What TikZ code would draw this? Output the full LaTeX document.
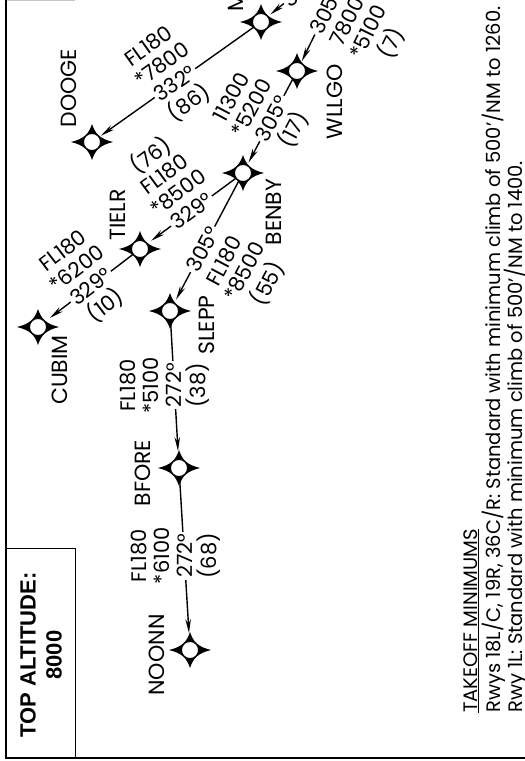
\documentclass[tikz,border=0pt]{standalone}
\usepackage{fontspec}
\setmainfont{Poppins}
\newfontfamily\boxfont{Liberation Sans}
\usetikzlibrary{arrows.meta, calc}

% stacked leg data (base = last / first line)
\newcommand{\upstack}[1]{\begin{tabular}[b]{@{}c@{}}#1\end{tabular}}
\newcommand{\downstack}[1]{\begin{tabular}[t]{@{}c@{}}#1\end{tabular}}

\tikzset{
  fixstar/.pic={\fill (21,0) .. controls (8,3.2) and (3.2,8) .. (0,18) .. controls (-3.2,8) and (-8,3.2) .. (-21,0)
     .. controls (-8,-3.2) and (-3.2,-8) .. (0,-18) .. controls (3.2,-8) and (8,-3.2) .. cycle;},
  fix/.style={circle, draw, line width=0.9pt, fill=white, minimum size=17pt, inner sep=0pt},
  fixname/.style={font=\fontsize{22}{23}\selectfont, inner sep=0pt, rotate=90},
  leg/.style={line width=1.4pt, -{Stealth[length=14pt, width=5.5pt]}, shorten >=3pt},
  course/.style={font=\fontsize{21}{23}\selectfont, fill=white, inner sep=2pt},
  legdata/.style={font=\fontsize{21}{23}\selectfont, inner sep=0pt, anchor=base},
  note/.style={font=\fontsize{19.5}{22}\selectfont, inner sep=0pt, rotate=90, anchor=base west},
}

\begin{document}
\begin{tikzpicture}[x=1pt, y=-1pt]
    \useasboundingbox (0,0) rectangle (525,761);
    \clip (0,0) rectangle (525,761);

    % Frame and top altitude box
    \draw[gray!45, line width=1pt] (6,0.5) -- (75,0.5);
    \draw[line width=2.5pt] (6,0) -- (6,758) -- (525,758);
    \draw[line width=0.8pt] (6,548) -- (75,548) -- (75,758);
    \node[font=\boxfont\bfseries\fontsize{22}{26}\selectfont, align=center, rotate=90, inner sep=0pt] (topalt) at (41,655) {TOP ALTITUDE:\\8000};

    % Fixes
    \pic at (261,22) {fixstar};   \node[fix] (wtop) at (261,22) {};
    \pic at (297,71) {fixstar};   \node[fix] (wllgo) at (297,71) {};
    \pic at (243,173) {fixstar};  \node[fix] (benby) at (243,173) {};
    \pic at (92,142) {fixstar};   \node[fix] (dooge) at (92,142) {};
    \pic at (140,249) {fixstar};  \node[fix] (tielr) at (140,249) {};
    \pic at (38,327) {fixstar};   \node[fix] (cubim) at (38,327) {};
    \pic at (170,311) {fixstar};  \node[fix] (slepp) at (170,311) {};
    \pic at (179,468) {fixstar};  \node[fix] (bfore) at (179,468) {};
    \pic at (190,650) {fixstar};  \node[fix] (noonn) at (190,650) {};

    % Fix names
    \node[fixname] (mname) at (236,2) {M};
    \node[fixname] (wllgoname) at (335,102) {WLLGO};
    \node[fixname] (benbyname) at (274,212) {BENBY};
    \node[fixname] (doogename) at (69,88) {DOOGE};
    \node[fixname] (tielrname) at (118,215) {TIELR};
    \node[fixname] (cubimname) at (60,370) {CUBIM};
    \node[fixname] (sleppname) at (207,325) {SLEPP};
    \node[fixname] (bforename) at (143,473) {BFORE};
    \node[fixname] (noonnname) at (157,655) {NOONN};

    % Legs
    \coordinate (tin) at (308,-16);
    \coordinate (hin) at (341,-19);
    \draw[leg] (tin) -- node[course, rotate=39, pos=0.44] (crst) {3} (wtop);

    \draw[leg, shorten >=2pt] (hin) -- node[course, rotate=64, pos=0.37] (crsh) {305°} (wllgo);
    \node[legdata, rotate=64] at ($(crsh.base)+(-26:23pt)$) {\downstack{7800\\{*}5100\\(7)}};

    \draw[leg, shorten >=2pt] (wtop) -- node[course, rotate=35.4, pos=0.51] (crsa) {332°} (dooge);
    \node[legdata, rotate=35.4] at ($(crsa.base)+(125.4:23pt)$) {\upstack{FL180\\{*}7800}};
    \node[legdata, rotate=35.4] at ($(crsa.base)+(-54.6:24pt)$) {\downstack{(86)}};

    \draw[leg] (wllgo) -- node[course, rotate=62.1, pos=0.46] (crsg) {305°} (benby);
    \node[legdata, rotate=62.1] at ($(crsg.base)+(152.1:23pt)$) {\upstack{11300\\{*}5200}};
    \node[legdata, rotate=62.1] at ($(crsg.base)+(-27.9:24pt)$) {\downstack{(17)}};

    \draw[leg, shorten >=5pt] (benby) -- node[course, rotate=36.4, pos=0.5] (crsb) {329°} (tielr);
    \node[legdata, rotate=36.4] at ($(crsb.base)+(126.4:23pt)$) {\upstack{(76)\\FL180\\{*}8500}};

    \draw[leg, shorten >=6pt] (tielr) -- node[course, rotate=37.4, pos=0.48] (crsc) {329°} (cubim);
    \node[legdata, rotate=37.4] at ($(crsc.base)+(127.4:23pt)$) {\upstack{FL180\\{*}6200}};
    \node[legdata, rotate=37.4] at ($(crsc.base)+(-52.6:24pt)$) {\downstack{(10)}};

    \draw[leg, shorten >=4pt] (benby) -- node[course, rotate=62.1, pos=0.56] (crsd) {305°} (slepp);
    \node[legdata, rotate=62.1] at ($(crsd.base)+(-27.9:24pt)$) {\downstack{FL180\\{*}8500\\(55)}};

    \draw[leg, shorten >=8pt] (slepp) -- node[course, rotate=90, pos=0.47] (crse) {272°} (bfore);
    \node[legdata, rotate=90] at ($(crse.base)+(180:23pt)$) {\upstack{FL180\\{*}5100}};
    \node[legdata, rotate=90] at ($(crse.base)+(0:24pt)$) {\downstack{(38)}};

    \draw[leg, shorten >=8pt] (bfore) -- node[course, rotate=90, pos=0.48] (crsf) {272°} (noonn);
    \node[legdata, rotate=90] at ($(crsf.base)+(180:23pt)$) {\upstack{FL180\\{*}6100}};
    \node[legdata, rotate=90] at ($(crsf.base)+(0:24pt)$) {\downstack{(68)}};

    % Takeoff minimums
    \node[note] (tkohead) at (477,713) {\underline{TAKEOFF MINIMUMS}};
    \node[note] (tkorwys) at (500,713) {Rwys 18L/C, 19R, 36C/R: Standard with minimum climb of 500'/NM to 1260.};
    \node[note] (tkorwy) at (522,713) {Rwy 1L: Standard with minimum climb of 500'/NM to 1400.};
\end{tikzpicture}
\end{document}
